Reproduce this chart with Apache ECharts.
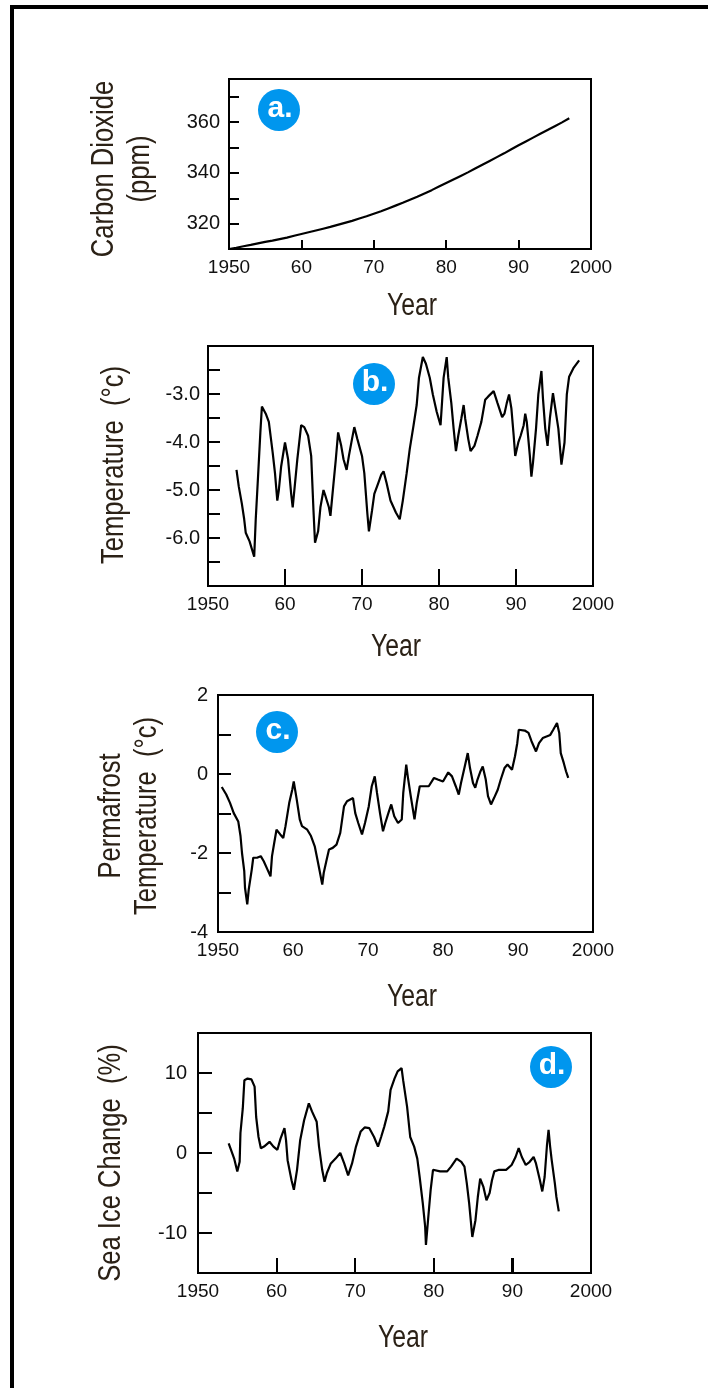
<!DOCTYPE html>
<html>
<head>
<meta charset="utf-8">
<script src="https://cdn.jsdelivr.net/npm/echarts@6/dist/echarts.min.js"></script>
<style>
html,body{margin:0;padding:0;background:#fff;}
#chart{width:708px;height:1388px;}
</style>
</head>
<body>
<div id="chart"></div>
<script>
// ---------- DATA ----------
const xTickYears = [1950, 1960, 1970, 1980, 1990, 2000];

// a. Carbon dioxide (ppm)
const aYears = [1950,1951,1952,1953,1954,1955,1956,1957,1958,1959,1960,1961,1962,1963,1964,1965,1966,1967,1968,1969,1970,1971,1972,1973,1974,1975,1976,1977,1978,1979,1980,1981,1982,1983,1984,1985,1986,1987,1988,1989,1990,1991,1992,1993,1994,1995,1996,1997];
const aValues = [310.0,310.5,311.1,311.6,312.2,312.8,313.3,313.9,314.5,315.2,315.9,316.6,317.3,318.0,318.7,319.5,320.3,321.1,322.0,322.9,323.9,324.9,326.0,327.1,328.2,329.4,330.6,331.9,333.2,334.6,336.0,337.4,338.8,340.2,341.7,343.2,344.7,346.2,347.7,349.3,350.9,352.4,353.9,355.4,356.9,358.4,359.9,361.5];

// b. Temperature (deg C)
const bYears = [1953.7,1954.0,1954.4,1954.7,1954.9,1955.4,1956.0,1956.2,1956.5,1956.8,1957.0,1957.5,1957.9,1958.4,1958.7,1959.0,1959.2,1959.5,1960.0,1960.4,1960.8,1961.0,1961.3,1961.6,1962.1,1962.5,1963.0,1963.4,1963.7,1963.9,1964.3,1964.6,1965.0,1965.3,1965.7,1965.9,1966.3,1966.6,1966.9,1967.3,1967.6,1968.0,1968.3,1968.7,1969.0,1969.4,1970.0,1970.3,1970.7,1970.9,1971.3,1971.6,1972.1,1972.5,1972.8,1973.2,1973.7,1974.4,1974.9,1975.3,1975.8,1976.2,1976.7,1977.1,1977.4,1977.9,1978.3,1978.8,1979.2,1979.7,1980.2,1980.4,1980.6,1981.0,1981.2,1981.6,1981.9,1982.2,1982.5,1982.9,1983.2,1983.4,1983.8,1984.1,1984.6,1985.0,1985.5,1986.0,1986.4,1987.1,1987.6,1988.2,1988.5,1988.8,1989.1,1989.4,1989.7,1989.9,1990.3,1990.6,1991.0,1991.2,1991.4,1991.8,1992.0,1992.2,1992.6,1992.9,1993.3,1993.5,1993.8,1994.1,1994.4,1994.8,1995.1,1995.5,1995.9,1996.3,1996.6,1996.9,1997.5,1998.2];
const bValues = [-4.58,-4.93,-5.29,-5.61,-5.89,-6.07,-6.39,-5.61,-4.72,-3.80,-3.26,-3.41,-3.58,-4.22,-4.65,-5.22,-5.00,-4.51,-4.01,-4.36,-5.08,-5.36,-4.86,-4.36,-3.65,-3.69,-3.87,-4.29,-5.43,-6.10,-5.86,-5.36,-5.00,-5.15,-5.36,-5.54,-4.86,-4.36,-3.80,-4.08,-4.36,-4.58,-4.29,-3.94,-3.69,-3.94,-4.29,-4.65,-5.50,-5.86,-5.43,-5.08,-4.86,-4.68,-4.61,-4.86,-5.22,-5.47,-5.61,-5.22,-4.65,-4.15,-3.65,-3.23,-2.66,-2.23,-2.37,-2.66,-3.01,-3.37,-3.65,-3.16,-2.66,-2.23,-2.66,-3.19,-3.72,-4.19,-3.87,-3.51,-3.23,-3.51,-3.94,-4.19,-4.08,-3.87,-3.58,-3.12,-3.05,-2.94,-3.19,-3.48,-3.41,-3.19,-3.01,-3.30,-3.87,-4.29,-4.01,-3.87,-3.65,-3.41,-3.58,-4.29,-4.72,-4.44,-3.72,-3.01,-2.52,-3.09,-3.72,-4.08,-3.51,-2.98,-3.30,-3.72,-4.47,-4.01,-3.01,-2.64,-2.45,-2.30];

// c. Permafrost temperature (deg C)
const cYears = [1950.5,1951.1,1951.6,1952.1,1952.7,1953.0,1953.2,1953.5,1953.6,1953.9,1954.1,1954.5,1954.7,1955.2,1955.7,1956.1,1956.6,1957.0,1957.2,1957.5,1957.8,1958.3,1958.7,1959.0,1959.5,1959.9,1960.1,1960.5,1960.9,1961.2,1961.9,1962.4,1962.9,1963.3,1963.6,1963.9,1964.1,1964.5,1964.8,1965.3,1965.8,1966.3,1966.8,1967.2,1968.0,1968.3,1968.7,1969.2,1969.6,1970.1,1970.5,1970.9,1971.2,1971.6,1972.0,1972.3,1972.8,1973.1,1973.5,1974.0,1974.5,1974.7,1975.1,1975.3,1975.7,1976.2,1976.5,1976.9,1977.4,1978.1,1978.8,1979.3,1980.0,1980.7,1981.2,1981.7,1982.1,1982.4,1982.9,1983.3,1983.6,1984.0,1984.3,1984.6,1985.0,1985.3,1985.7,1986.0,1986.4,1986.8,1987.3,1987.7,1988.2,1988.6,1989.2,1989.6,1989.9,1990.1,1990.9,1991.4,1991.8,1992.4,1992.8,1993.3,1993.8,1994.3,1994.7,1995.2,1995.5,1995.7,1996.1,1996.4,1996.7];
const cValues = [-0.33,-0.52,-0.73,-0.99,-1.20,-1.57,-2.00,-2.46,-2.88,-3.30,-2.92,-2.42,-2.12,-2.12,-2.08,-2.21,-2.42,-2.59,-2.08,-1.74,-1.41,-1.53,-1.62,-1.32,-0.73,-0.40,-0.19,-0.65,-1.15,-1.32,-1.41,-1.57,-1.83,-2.21,-2.50,-2.80,-2.50,-2.16,-1.91,-1.87,-1.79,-1.49,-0.82,-0.69,-0.61,-0.99,-1.24,-1.53,-1.24,-0.82,-0.31,-0.06,-0.48,-0.99,-1.45,-1.24,-0.94,-0.77,-1.07,-1.24,-1.15,-0.48,0.24,-0.06,-0.56,-1.15,-0.73,-0.31,-0.31,-0.31,-0.10,-0.14,-0.19,0.04,-0.06,-0.31,-0.52,-0.23,0.19,0.53,0.15,-0.23,-0.35,-0.14,0.07,0.19,-0.14,-0.56,-0.77,-0.61,-0.40,-0.14,0.15,0.24,0.11,0.45,0.78,1.12,1.10,1.04,0.83,0.57,0.78,0.91,0.95,0.99,1.12,1.29,1.04,0.53,0.28,0.07,-0.10];

// d. Sea ice change (%)
const dYears = [1953.9,1954.2,1954.6,1955.0,1955.3,1955.4,1955.7,1955.9,1956.3,1956.8,1957.2,1957.4,1957.7,1958.0,1958.4,1959.1,1959.6,1960.1,1960.5,1961.0,1961.2,1961.4,1961.9,1962.2,1962.6,1963.0,1963.5,1964.1,1964.5,1965.1,1965.4,1965.8,1966.1,1966.4,1966.9,1967.5,1968.1,1968.6,1969.1,1969.6,1970.1,1970.7,1971.2,1971.8,1972.4,1972.9,1973.3,1973.7,1974.2,1974.5,1975.0,1975.4,1975.9,1976.1,1976.6,1977.0,1977.5,1977.9,1978.2,1978.6,1978.9,1979.0,1979.3,1979.6,1979.9,1980.8,1981.7,1982.2,1982.9,1983.5,1983.9,1984.2,1984.5,1984.9,1985.3,1985.6,1985.9,1986.3,1986.7,1987.1,1987.4,1987.7,1988.3,1989.2,1989.9,1990.4,1990.8,1991.2,1991.7,1992.2,1992.7,1993.0,1993.5,1993.8,1994.1,1994.4,1994.6,1994.8,1995.0,1995.4,1995.6,1995.9];
const dValues = [1.2,0.4,-0.7,-2.3,-1.1,2.5,5.6,9.1,9.3,9.2,8.3,4.5,2.0,0.6,0.8,1.4,0.8,0.4,1.8,3.1,1.6,-0.9,-3.4,-4.6,-2.1,1.6,4.1,6.2,5.2,3.9,0.8,-2.1,-3.6,-2.5,-1.3,-0.7,0.0,-1.3,-2.8,-1.3,0.8,2.7,3.2,3.1,2.0,0.8,2.0,3.3,5.2,7.9,9.3,10.2,10.6,9.1,5.8,2.0,0.8,-0.7,-3.0,-6.3,-9.2,-11.5,-8.0,-4.6,-2.1,-2.3,-2.3,-1.7,-0.7,-1.1,-1.7,-3.8,-6.3,-10.5,-8.4,-5.5,-3.2,-4.2,-5.9,-5.0,-3.4,-2.3,-2.1,-2.1,-1.5,-0.5,0.6,-0.5,-1.5,-1.1,-0.5,-1.3,-3.4,-4.8,-3.0,1.0,2.9,0.8,-0.9,-3.8,-5.5,-7.3];

const yTitles = ['Carbon Dioxide\n(ppm)', 'Temperature  (\u00b0c)', 'Permafrost\nTemperature  (\u00b0c)', 'Sea Ice Change  (%)'];
const badges = ['a.', 'b.', 'c.', 'd.'];
const xTitle = 'Year';

// ---------- LAYOUT ----------
const FONT = '"Liberation Sans", Arial, sans-serif';
const TXT = '#111';
const TTL = '#2b2116';
const BLUE = '#0096ee';
const NARROW = 0.8;

const grids = [
  {left: 229, top: 79,   width: 362, height: 170},
  {left: 208, top: 346,  width: 385, height: 240},
  {left: 218, top: 695,  width: 375, height: 237},
  {left: 198, top: 1033, width: 393, height: 240}
];
const yCfg = [
  {min: 310, max: 377, interval: 10, tick: 10, margin: 9,
   fmt: v => (v === 320 || v === 340 || v === 360) ? String(v) : ''},
  {min: -7, max: -2, interval: 0.5, tick: 12, margin: 8,
   fmt: v => (Number.isInteger(v) && v > -7 && v < -2) ? v.toFixed(1) : ''},
  {min: -4, max: 2, interval: 1, tick: 13, margin: 10,
   fmt: v => (Math.abs(v % 2) === 0) ? String(v) : ''},
  {min: -15, max: 15, interval: 5, tick: 14, margin: 11,
   fmt: v => (v === 10 || v === 0 || v === -10) ? String(v) : ''}
];
const xTickLen = [9, 17, 0, 15];
const seriesData = [
  aYears.map((y, i) => [y, aValues[i]]),
  bYears.map((y, i) => [y, bValues[i]]),
  cYears.map((y, i) => [y, cValues[i]]),
  dYears.map((y, i) => [y, dValues[i]])
];

const xAxes = grids.map((g, i) => ({
  type: 'value', gridIndex: i, position: 'bottom',
  min: xTickYears[0], max: xTickYears[xTickYears.length - 1], interval: 10,
  axisLine: {show: true, onZero: false, lineStyle: {color: '#000', width: 2}},
  axisTick: {show: xTickLen[i] > 0, inside: true, length: Math.max(xTickLen[i], 1), lineStyle: {color: '#000', width: 2}},
  splitLine: {show: false},
  axisLabel: {
    margin: 9, fontSize: 19, fontFamily: FONT, color: TXT,
    formatter: v => (v === 1950 || v === 2000) ? String(v) : String(v - 1900)
  }
}));
const yAxes = grids.map((g, i) => ({
  type: 'value', gridIndex: i, position: 'left',
  min: yCfg[i].min, max: yCfg[i].max, interval: yCfg[i].interval,
  axisLine: {show: true, onZero: false, lineStyle: {color: '#000', width: 2}},
  axisTick: {show: true, inside: true, length: yCfg[i].tick, lineStyle: {color: '#000', width: 2}},
  splitLine: {show: false},
  axisLabel: {margin: yCfg[i].margin, fontSize: 20, fontFamily: FONT, color: TXT, formatter: yCfg[i].fmt}
}));
const series = seriesData.map((d, i) => ({
  type: 'line', xAxisIndex: i, yAxisIndex: i, data: d,
  showSymbol: false, symbol: 'none', silent: true,
  lineStyle: {color: '#000', width: 2.2}
}));

// titles / badges positions
const yTitlePos = [[122, 169], [114, 465], [129, 816], [111, 1163]];
const xTitlePos = [[412, 306], [396, 647], [412, 997], [403, 1338]];
const badgePos = [[279, 110], [374, 384], [277, 732], [551, 1067]];

const graphic = [
  {type: 'rect', shape: {x: 10, y: 5, width: 698, height: 4}, style: {fill: '#000'}, silent: true},
  {type: 'rect', shape: {x: 10, y: 5, width: 4, height: 1383}, style: {fill: '#000'}, silent: true}
];
yTitles.forEach((t, i) => {
  graphic.push({
    type: 'text', x: yTitlePos[i][0], y: yTitlePos[i][1], rotation: Math.PI / 2, scaleX: NARROW, silent: true,
    style: {text: t, font: '32px ' + FONT, fill: TTL, align: 'center', verticalAlign: 'middle',
            textAlign: 'center', textVerticalAlign: 'middle', lineHeight: 36}
  });
});
xTitlePos.forEach((p, i) => {
  graphic.push({
    type: 'text', x: p[0], y: p[1], scaleX: NARROW, silent: true,
    style: {text: xTitle, font: '31px ' + FONT, fill: TTL, align: 'center', verticalAlign: 'middle',
            textAlign: 'center', textVerticalAlign: 'middle'}
  });
});
badges.forEach((b, i) => {
  graphic.push({type: 'circle', shape: {cx: badgePos[i][0], cy: badgePos[i][1], r: 21}, style: {fill: BLUE}, silent: true});
  graphic.push({
    type: 'text', x: badgePos[i][0] + 1, y: badgePos[i][1] - 1, silent: true,
    style: {text: b, font: 'bold 30px "Liberation Sans", Arial, sans-serif', fill: '#fff',
            align: 'center', verticalAlign: 'middle', textAlign: 'center', textVerticalAlign: 'middle'}
  });
});

const chart = echarts.init(document.getElementById('chart'), null, {renderer: 'canvas'});
chart.setOption({
  animation: false,
  backgroundColor: '#fff',
  grid: grids.map(g => Object.assign({show: true, borderColor: '#000', borderWidth: 2, backgroundColor: 'transparent'}, g)),
  xAxis: xAxes,
  yAxis: yAxes,
  series: series,
  graphic: graphic
});

// Reinforce the inner decade ticks of panel d, positioned through the library's own scale.
const dTicks = xTickYears.slice(1, -1).map(yr => {
  const p = chart.convertToPixel({xAxisIndex: 3, yAxisIndex: 3}, [yr, yCfg[3].min]);
  return {type: 'line', silent: true, z: 100,
          shape: {x1: Math.round(p[0]), y1: p[1], x2: Math.round(p[0]), y2: p[1] - xTickLen[3]},
          style: {stroke: '#000', lineWidth: 2}};
});
chart.setOption({graphic: graphic.concat(dTicks)});
</script>
</body>
</html>
